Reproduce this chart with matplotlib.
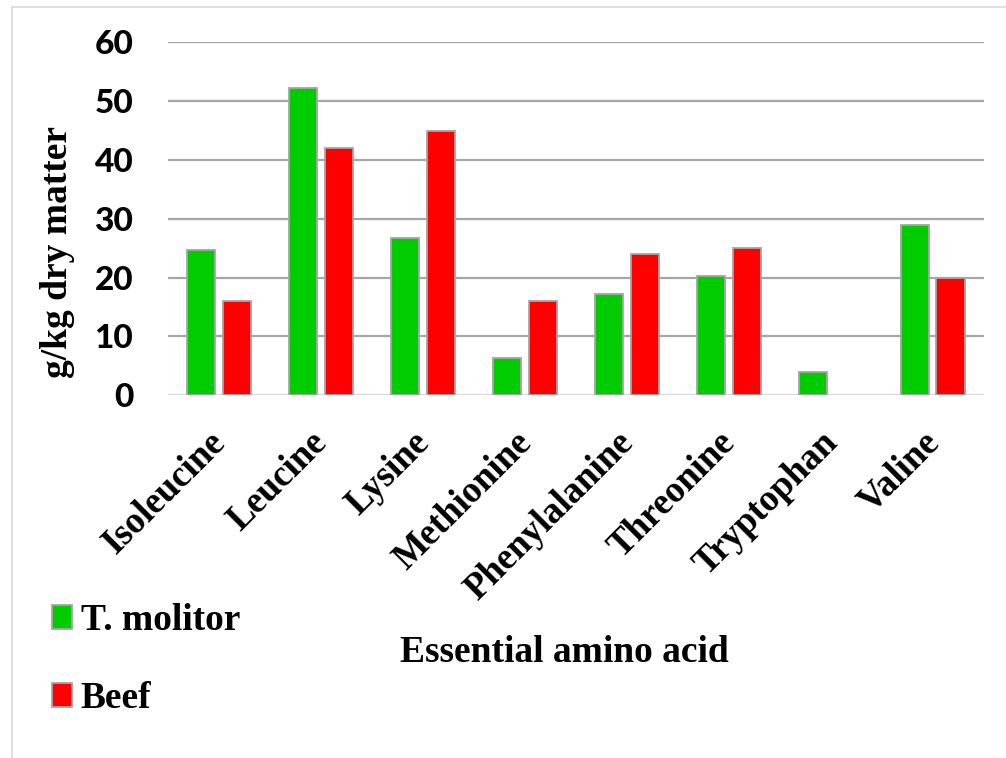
import matplotlib.pyplot as plt
from matplotlib.patches import Patch
from matplotlib.lines import Line2D
import numpy as np

# essential amino acid content, g/kg dry matter (no beef value for tryptophan)
amino_acids = ['Isoleucine', 'Leucine', 'Lysine', 'Methionine',
               'Phenylalanine', 'Threonine', 'Tryptophan', 'Valine']
t_molitor = [24.7, 52.2, 26.8, 6.3, 17.3, 20.3, 4.0, 28.9]
beef = [16, 42, 45, 16, 24, 25, np.nan, 20]
y_ticks = [0, 10, 20, 30, 40, 50, 60]

serif = ['Liberation Serif', 'DejaVu Serif']

fig = plt.figure(figsize=(10.06, 7.58), dpi=100)
ax = fig.add_axes([0.167, 0.4785, 0.811, 0.4655])

x = np.arange(len(amino_acids))
w = 0.275
off = 0.173
ax.bar(x - off, t_molitor, w, color='#00CC00', edgecolor='#A6A6A6',
       linewidth=1.3, zorder=3)
ax.bar(x + off, beef, w, color='#FF0000', edgecolor='#A6A6A6',
       linewidth=1.3, zorder=3)

ax.set_xlim(-0.5, len(amino_acids) - 0.5)
ax.set_ylim(0, 60)
ax.set_yticks(y_ticks)
ax.set_yticklabels([str(v) for v in y_ticks], fontfamily='Lato',
                   fontweight='black', fontsize=24)
ax.tick_params(axis='y', length=0, pad=25)
ax.tick_params(axis='x', length=0)
for v in y_ticks[1:]:
    ax.axhline(v, color='#A6A6A6', linewidth=1.6, zorder=1)
ax.axhline(0, color='#D9D9D9', linewidth=1.6, zorder=2)
for s in ax.spines.values():
    s.set_visible(False)

ax.set_xticks(x)
ax.set_xticklabels([])
for i, name in enumerate(amino_acids):
    ax.text(i - 0.11, -5.0, name, rotation=45, rotation_mode='anchor',
            ha='right', va='top', fontfamily=serif, fontweight='bold',
            fontsize=26.5)

ax.set_ylabel('g/kg dry matter', fontfamily=serif, fontweight='bold',
              fontsize=27)
ax.yaxis.set_label_coords(-0.114, 0.406)

fig.text(0.561, 1 - 652 / 758, 'Essential amino acid', ha='center',
         va='center', fontfamily=serif, fontweight='bold', fontsize=27)

handles = [Patch(facecolor='#00CC00', edgecolor='#A6A6A6', linewidth=1.3),
           Patch(facecolor='#FF0000', edgecolor='#A6A6A6', linewidth=1.3)]
fig.legend(handles, ['T. molitor', 'Beef'], loc='upper left',
           bbox_to_anchor=(52 / 1006, 1 - 603 / 758), frameon=False,
           prop={'family': serif, 'weight': 'bold', 'size': 27},
           handlelength=0.52, handleheight=0.6, handletextpad=0.25,
           labelspacing=1.15, borderpad=0, borderaxespad=0)

# light outer frame of the chart area
fig.add_artist(Line2D([12 / 1006, 12 / 1006], [1 - 7 / 758, 0],
                      color='#D9D9D9', linewidth=1.2))
fig.add_artist(Line2D([12 / 1006, 1], [1 - 7 / 758, 1 - 7 / 758],
                      color='#D9D9D9', linewidth=1.2))

fig.savefig('out.png', dpi=100)
